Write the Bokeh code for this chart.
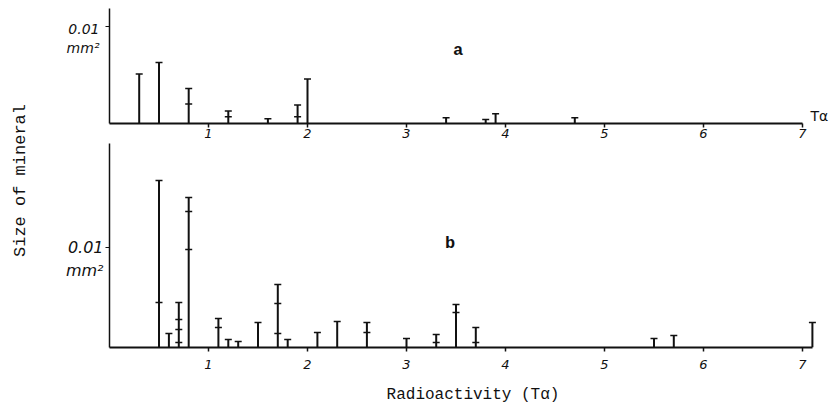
from math import pi
from bokeh.plotting import figure
from bokeh.layouts import row, column
from bokeh.models import Label, FixedTicker, Range1d
from bokeh.embed import file_html
from bokeh.resources import INLINE

# ---- data ----
x_ticks = [1, 2, 3, 4, 5, 6, 7]
y_tick = [0.01]
y_tick_label = {0.01: " \n0.01\nmm²"}

# panel a
a_x = [0.3, 0.5, 0.8, 1.2, 1.6, 1.9, 2.0, 3.4, 3.8, 3.9, 4.7]
a_size = [0.0051, 0.0063, 0.0036, 0.0013, 0.0005, 0.0019, 0.0046, 0.0006, 0.0004, 0.0010, 0.0006]
a_mark_x = [0.8, 1.2, 1.9]
a_mark_size = [0.0020, 0.0007, 0.0007]

# panel b
b_x = [0.5, 0.6, 0.7, 0.8, 1.1, 1.2, 1.3, 1.5, 1.7, 1.8, 2.1, 2.3, 2.6, 3.0, 3.3, 3.5, 3.7, 5.5, 5.7, 7.1]
b_size = [0.0167, 0.0014, 0.0045, 0.0150, 0.0029, 0.0008, 0.0006, 0.0025, 0.0063, 0.0008,
          0.0015, 0.0026, 0.0025, 0.0009, 0.0013, 0.0043, 0.0020, 0.0009, 0.0012, 0.0025]
b_mark_x = [0.5, 0.7, 0.7, 0.7, 0.8, 0.8, 1.1, 1.7, 1.7, 2.6, 3.3, 3.5, 3.7]
b_mark_size = [0.0045, 0.0028, 0.0018, 0.0005, 0.0136, 0.0098, 0.0020, 0.0044, 0.0014,
               0.0015, 0.0005, 0.0035, 0.0005]

INK = "#111111"
MONO = "Liberation Mono"


def panel(height, top_border, bottom_border, y_end, x_end_axis):
    p = figure(width=806, height=height, output_backend="svg", toolbar_location=None,
               x_range=Range1d(0, 727 / 99), y_range=Range1d(0, y_end),
               min_border_left=79, min_border_right=0,
               min_border_top=top_border, min_border_bottom=bottom_border)
    p.xgrid.visible = False
    p.ygrid.visible = False
    p.outline_line_color = None
    p.background_fill_color = "white"
    p.border_fill_color = "white"
    xa = p.xaxis[0]
    xa.ticker = FixedTicker(ticks=x_ticks)
    xa.bounds = (0, x_end_axis)
    xa.axis_line_width = 2
    xa.axis_line_color = INK
    xa.major_tick_line_color = INK
    xa.major_tick_line_width = 1.5
    xa.major_tick_in = 0
    xa.major_tick_out = 4
    xa.minor_tick_line_color = None
    xa.major_label_text_font = "DejaVu Sans"
    xa.major_label_text_font_style = "italic"
    xa.major_label_text_font_size = "13px"
    xa.major_label_text_color = INK
    ya = p.yaxis[0]
    ya.ticker = FixedTicker(ticks=y_tick)
    ya.major_label_overrides = y_tick_label
    ya.axis_line_width = 1.5
    ya.axis_line_color = INK
    ya.major_tick_line_color = INK
    ya.major_tick_in = 0
    ya.major_tick_out = 4
    ya.minor_tick_line_color = None
    ya.major_label_text_font = "DejaVu Sans"
    ya.major_label_text_font_style = "italic"
    ya.major_label_text_color = INK
    return p


def draw(p, xs, ys, mx, my):
    p.segment(x0=xs, y0=[0] * len(xs), x1=xs, y1=ys, line_width=2, line_color=INK)
    p.scatter(xs, ys, marker="dash", size=7, line_width=1.5, line_color=INK)
    p.scatter(mx, my, marker="dash", size=7, line_width=1.5, line_color=INK)


# ---- top panel (a) ----
top = panel(143, 8, 20, 0.011856, 7.0)
top.xaxis[0].major_label_standoff = 1
top.yaxis[0].major_label_standoff = 6
top.yaxis[0].major_label_text_font_size = "14px"
draw(top, a_x, a_size, a_mark_x, a_mark_size)
top.add_layout(Label(x=3.52, y=0.0075, text="a", text_font=MONO, text_font_size="17px",
                     text_font_style="bold", text_align="center", text_baseline="middle",
                     text_color=INK))
top.add_layout(Label(x=7.08, y=0.0, text="Tα", text_font="DejaVu Sans",
                     text_font_size="14px", text_align="left", text_baseline="bottom",
                     text_color=INK))

# ---- bottom panel (b) ----
bot = panel(272, 0, 68, 0.0204, 7.1)
bot.xaxis[0].major_label_standoff = 8
bot.xaxis[0].axis_label = "Radioactivity (Tα)"
bot.xaxis[0].axis_label_standoff = 14
bot.xaxis[0].axis_label_text_font = MONO
bot.xaxis[0].axis_label_text_font_style = "normal"
bot.xaxis[0].axis_label_text_font_size = "16px"
bot.xaxis[0].axis_label_text_color = INK
bot.yaxis[0].major_label_standoff = 2
bot.yaxis[0].major_label_text_font_size = "16px"
draw(bot, b_x, b_size, b_mark_x, b_mark_size)
bot.add_layout(Label(x=3.44, y=0.0104, text="b", text_font=MONO, text_font_size="17px",
                     text_font_style="bold", text_align="center", text_baseline="middle",
                     text_color=INK))

# ---- shared y label ----
lab = figure(width=30, height=415, output_backend="svg", toolbar_location=None,
             x_range=Range1d(0, 1), y_range=Range1d(0, 1),
             min_border_left=0, min_border_right=0, min_border_top=0, min_border_bottom=0)
lab.axis.visible = False
lab.grid.visible = False
lab.outline_line_color = None
lab.border_fill_color = "white"
lab.background_fill_color = "white"
lab.add_layout(Label(x=20, y=235, x_units="screen", y_units="screen", text="Size of mineral",
                     angle=pi / 2, text_font=MONO, text_font_size="17px", text_align="center",
                     text_baseline="middle", text_color=INK))

layout = row(lab, column(top, bot))
open("out.html", "w").write(file_html(layout, INLINE))
